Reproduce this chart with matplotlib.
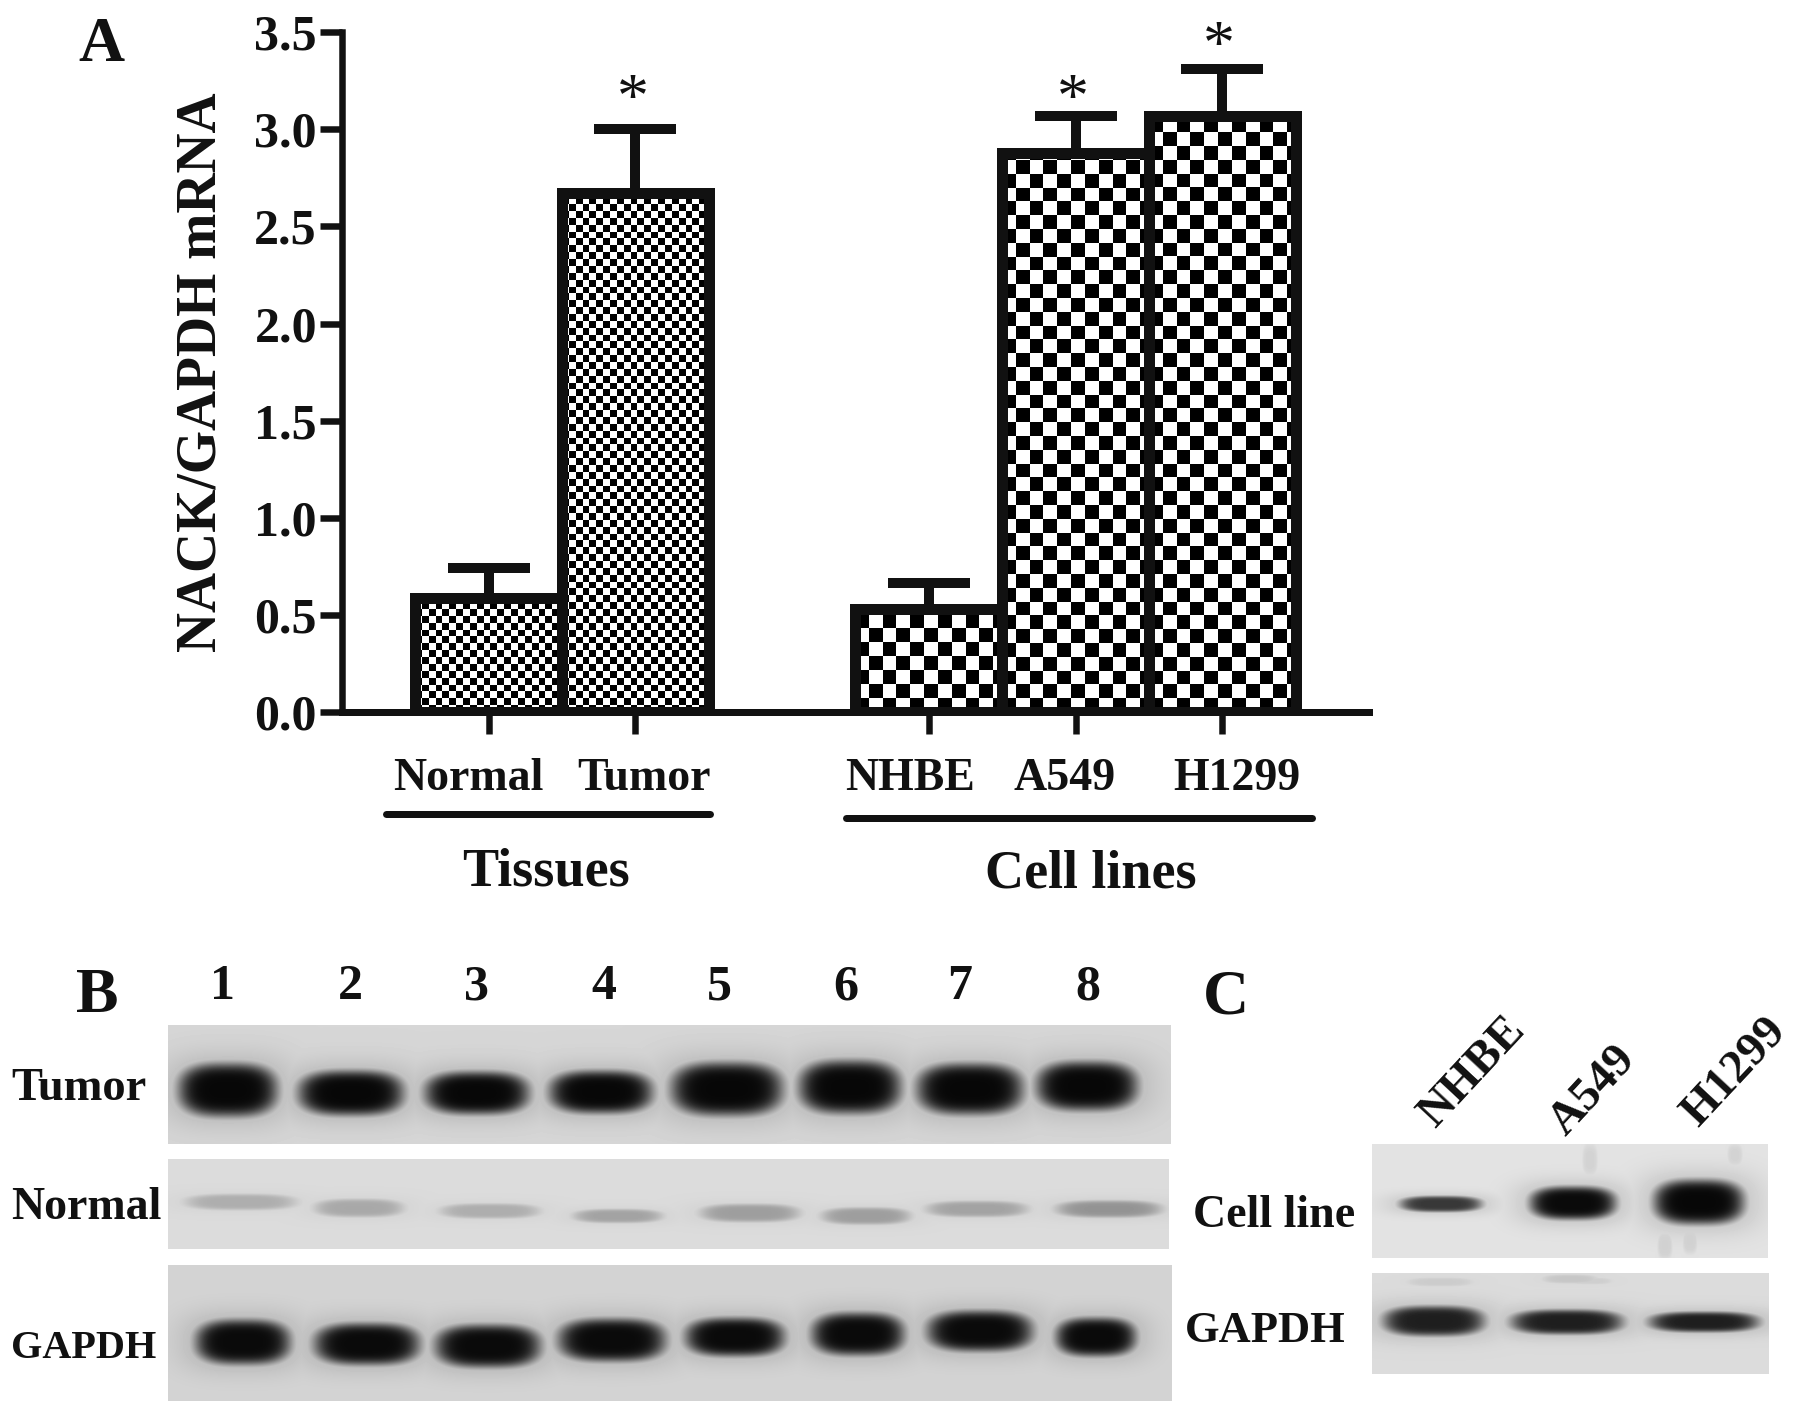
import numpy as np
import matplotlib
matplotlib.use("Agg")
import matplotlib.pyplot as plt

plt.rcParams['font.family'] = ['Liberation Serif', 'DejaVu Serif']
plt.rcParams['font.weight'] = 'bold'

INK = '#111111'
W, H = 1795, 1413
DPI = 100
PX = 72 / DPI

# panel A
names = ['Normal', 'Tumor', 'NHBE', 'A549', 'H1299']
positions = [0, 1, 3, 4, 5]
means = [0.59, 2.67, 0.53, 2.88, 3.07]
errs = [0.153, 0.33, 0.135, 0.19, 0.24]
cells = [6.85, 6.85, 13.8, 13.8, 13.8]
label_x = [468, 644, 910, 1065, 1237]
star_pos = [1, 4, 5]
star_y = [3.14, 3.14, 3.41]
yticks = [0.0, 0.5, 1.0, 1.5, 2.0, 2.5, 3.0, 3.5]

# panel B: band centre, width, y, height, darkness
tumor_x = [228, 351, 477, 601, 727, 850, 970, 1087]
tumor_w = [94, 100, 99, 98, 106, 97, 101, 96]
tumor_y = [1090, 1093, 1093, 1092, 1089, 1087, 1089, 1086]
tumor_h = [50, 42, 40, 40, 50, 50, 48, 46]
tumor_d = [0.03, 0.03, 0.03, 0.03, 0.03, 0.03, 0.03, 0.03]

normal_x = [241, 359, 490, 618, 750, 866, 977, 1109]
normal_w = [105, 84, 94, 84, 94, 84, 96, 100]
normal_y = [1202, 1208, 1211, 1216, 1213, 1216, 1209, 1209]
normal_h = [15, 17, 14, 13, 17, 16, 15, 16]
normal_d = [0.68, 0.66, 0.68, 0.64, 0.62, 0.62, 0.64, 0.58]

gapdh_x = [243, 367, 488, 612, 735, 858, 980, 1096]
gapdh_w = [90, 100, 100, 102, 94, 88, 100, 76]
gapdh_y = [1342, 1344, 1346, 1340, 1337, 1334, 1331, 1337]
gapdh_h = [42, 39, 40, 40, 36, 40, 38, 36]
gapdh_d = [0.04, 0.04, 0.04, 0.04, 0.04, 0.04, 0.04, 0.04]

# panel C, the last entries are the faint smears around the lanes
cell_x = [1441, 1573, 1699, 1590, 1665, 1690, 1735]
cell_w = [78, 82, 86, 14, 14, 14, 14]
cell_y = [1204, 1203, 1202, 1160, 1245, 1240, 1155]
cell_h = [15, 31, 42, 30, 26, 26, 20]
cell_d = [0.22, 0.04, 0.03, 0.83, 0.82, 0.82, 0.83]

cgapdh_x = [1434, 1567, 1704, 1440, 1570, 1590]
cgapdh_w = [96, 106, 104, 60, 50, 40]
cgapdh_y = [1321, 1322, 1322, 1282, 1279, 1281]
cgapdh_h = [28, 23, 19, 8, 8, 6]
cgapdh_d = [0.12, 0.12, 0.12, 0.80, 0.78, 0.81]

lanes = ['1', '2', '3', '4', '5', '6', '7', '8']
lane_x = [223, 350, 477, 604, 719, 846, 960, 1088]
c_names = ['NHBE', 'A549', 'H1299']
c_name_x = [1473, 1593, 1735]
c_name_y = [1073, 1091, 1073]


def blot(ax, box, bg, xs, ws, ys, hs, ds):
    x0, x1, y0, y1 = box
    xx, yy = np.meshgrid(np.arange(x0, x1) + 0.5, np.arange(y0, y1) + 0.5)
    img = np.full(xx.shape, bg, dtype=float)
    for x, w, y, h, d in zip(xs, ws, ys, hs, ds):
        r = (np.abs(xx - x) / (w / 2)) ** 3 + (np.abs(yy - y) / (h / 2)) ** 2.5
        a = np.exp(-(r ** 2.2) * 0.7)
        # thin glow around the dark core
        a = np.maximum(a, 0.2 * np.exp(-r * 0.4))
        img = np.minimum(img, bg + (d - bg) * a)
    ax.imshow(img, extent=(x0, x1, y1, y0), cmap='gray', vmin=0, vmax=1,
              aspect='auto', interpolation='bilinear')


fig = plt.figure(figsize=(W / DPI, H / DPI), dpi=DPI, facecolor='white')

# pixel overlay for the blots and the free labels
page = fig.add_axes([0, 0, 1, 1])
page.axis('off')

blot(page, (168, 1171, 1025, 1144), 0.84, tumor_x, tumor_w, tumor_y, tumor_h, tumor_d)
blot(page, (168, 1169, 1159, 1249), 0.86, normal_x, normal_w, normal_y, normal_h, normal_d)
blot(page, (168, 1172, 1265, 1401), 0.83, gapdh_x, gapdh_w, gapdh_y, gapdh_h, gapdh_d)
blot(page, (1372, 1768, 1144, 1258), 0.89, cell_x, cell_w, cell_y, cell_h, cell_d)
blot(page, (1372, 1769, 1273, 1374), 0.86, cgapdh_x, cgapdh_w, cgapdh_y, cgapdh_h, cgapdh_d)
page.set_xlim(0, W)
page.set_ylim(H, 0)


def label(x, y, s, size, ha='center'):
    page.text(x, y, s, fontsize=size, ha=ha, va='center', color=INK)


label(101, 46, 'A', 46)
label(97, 997, 'B', 46)
label(1226, 998, 'C', 46)

for x, s in zip(label_x, names):
    label(x, 779, s, 33)
label(546, 872, 'Tissues', 39)
label(1091, 874, 'Cell lines', 39)
page.plot([386, 710], [814, 814], color=INK, lw=7 * PX, solid_capstyle='round')
page.plot([846, 1312], [818, 818], color=INK, lw=7 * PX, solid_capstyle='round')

for x, s in zip(lane_x, lanes):
    label(x, 987, s, 36)
label(11, 1089, 'Tumor', 33.5, ha='left')
label(11, 1208, 'Normal', 33, ha='left')
label(11, 1349, 'GAPDH', 29, ha='left')
label(1193, 1216, 'Cell line', 33, ha='left')
label(1185, 1331, 'GAPDH', 32, ha='left')
for x, y, s in zip(c_name_x, c_name_y, c_names):
    page.text(x, y, s, fontsize=34, ha='center', va='center', color=INK, rotation=47)

# bar chart
ax = fig.add_axes([342 / W, 1 - 712.4 / H, (1369 - 342) / W, (712.4 - 32) / H])
ax.patch.set_alpha(0)
bars = ax.bar(positions, means, width=1, facecolor='none', edgecolor=INK,
              linewidth=11 * PX, zorder=3)
ax.set_xlim(-1, 6)
ax.set_ylim(0, 3.5)

px_x = (1369 - 342) / 7
px_y = (712.4 - 32) / 3.5
for b, c in zip(bars, cells):
    left = b.get_x()
    nx = int(np.ceil(b.get_width() * px_x / c))
    ny = int(np.ceil(b.get_height() * px_y / c))
    tex = np.indices((ny, nx)).sum(axis=0) % 2
    im = ax.imshow(tex, extent=(left, left + nx * c / px_x, ny * c / px_y, 0),
                   cmap='gray', vmin=0, vmax=1, aspect='auto',
                   interpolation='nearest', zorder=1)
    im.set_clip_path(b)
ax.set_xlim(-1, 6)
ax.set_ylim(0, 3.5)

ax.errorbar(positions, means, yerr=[np.zeros(len(means)), errs], fmt='none',
            ecolor=INK, elinewidth=10 * PX, capsize=41 * PX, capthick=10 * PX, zorder=2)

for x, y in zip(star_pos, star_y):
    ax.text(x - 0.02, y, '*', fontsize=46, ha='center', va='center', color=INK,
            fontweight='normal', clip_on=False)

for s in ['top', 'right']:
    ax.spines[s].set_visible(False)
ax.spines['left'].set_linewidth(6.5 * PX)
ax.spines['bottom'].set_linewidth(7 * PX)
ax.spines['left'].set_color(INK)
ax.spines['bottom'].set_color(INK)

ax.set_xticks(positions)
ax.set_xticklabels([])
ax.set_yticks(yticks)
ax.set_yticklabels(['%.1f' % t for t in yticks], fontsize=36, color=INK)
ax.tick_params(axis='both', length=22 * PX, width=6.5 * PX, color=INK)
ax.tick_params(axis='y', pad=3 * PX)
ax.set_ylabel('NACK/GAPDH mRNA', fontsize=40, color=INK, labelpad=19, fontweight='bold')

fig.savefig('out.png', dpi=DPI)
